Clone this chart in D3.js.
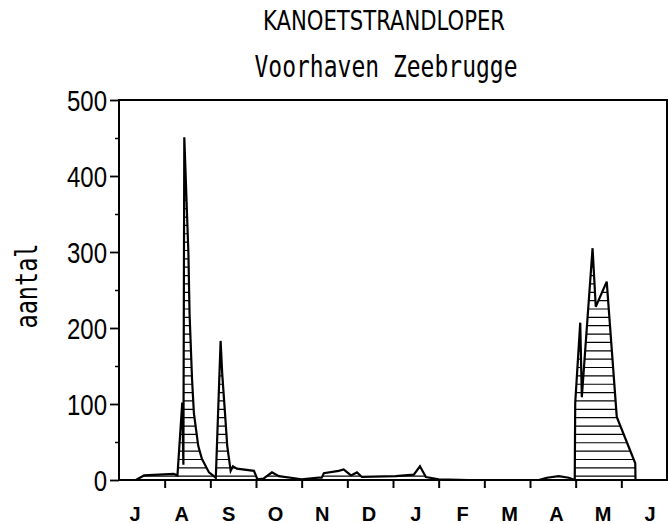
<!DOCTYPE html>
<html>
<head>
<meta charset="utf-8">
<title>Kanoetstrandloper</title>
<script src="https://d3js.org/d3.v7.min.js"></script>
<style>
  body { margin: 0; background: #fff; }
  svg { display: block; }
</style>
</head>
<body>
<div id="chart"></div>
<script>
// month labels, July to June
var maanden = ["J", "A", "S", "O", "N", "D", "J", "F", "M", "A", "M", "J"];
// y axis tick values
var yTicks = [0, 100, 200, 300, 400, 500];
// time in months since 1 July
var tijd = [0, 0.37, 0.55, 1.20, 1.28, 1.385, 1.41, 1.43, 1.52, 1.545, 1.60, 1.64, 1.735, 1.815, 1.97,
  2.12, 2.225, 2.26, 2.32, 2.37, 2.445, 2.495, 2.58, 2.955, 3.03, 3.17, 3.35, 3.50, 4.00,
  4.375, 4.44, 4.485, 4.81, 4.92, 5.08, 5.21, 5.32, 6.06, 6.455, 6.59, 6.72, 7.00, 7.66,
  9.19, 9.37, 9.63, 9.85, 9.98, 9.99, 10.10, 10.135, 10.37, 10.44, 10.68, 10.90, 11.305, 11.31];
// counted birds
var aantal = [0, 0, 6, 8, 6, 102, 20, 451, 298, 219, 132, 88, 45, 28, 10,
  3, 183, 140, 89, 45, 12, 18, 15, 12, 1, 2, 10, 5, 1,
  3, 3, 9, 12, 14, 6, 10, 4, 5, 7, 18, 4, 1, 0,
  0, 3, 5, 3, 0, 101, 207, 109, 305, 228, 261, 83, 22, 0];

var data = tijd.map(function(t, i) { return { t: t, n: aantal[i] }; });

var width = 668, height = 524;
var svg = d3.select("#chart").append("svg")
  .attr("width", width)
  .attr("height", height);

var x = d3.scaleLinear().domain([0, 12]).range([119, 667]);
var y = d3.scaleLinear().domain([0, 500]).range([480, 100]);
// month letters sit a little wider apart than the month ticks
var xLabel = d3.scalePoint().domain(d3.range(12)).range([135, 650]);

// titles
svg.append("text")
  .attr("x", 384).attr("y", 30)
  .attr("text-anchor", "middle")
  .attr("textLength", 242).attr("lengthAdjust", "spacingAndGlyphs")
  .style("font-family", "'DejaVu Sans Condensed', 'DejaVu Sans', sans-serif")
  .style("font-size", "26px")
  .text("KANOETSTRANDLOPER");

svg.append("text")
  .attr("x", 386).attr("y", 77)
  .attr("text-anchor", "middle")
  .attr("textLength", 263).attr("lengthAdjust", "spacingAndGlyphs")
  .style("font-family", "'DejaVu Sans Mono', monospace")
  .style("font-size", "31px")
  .text("Voorhaven Zeebrugge");

// y label
svg.append("text")
  .attr("transform", "translate(37,286) rotate(-90)")
  .attr("text-anchor", "middle")
  .attr("textLength", 85).attr("lengthAdjust", "spacingAndGlyphs")
  .style("font-family", "'DejaVu Sans Mono', monospace")
  .style("font-size", "31px")
  .text("aantal");

// hatched area
var area = d3.area()
  .x(function(d) { return x(d.t); })
  .y0(y(0))
  .y1(function(d) { return y(d.n); });

svg.append("clipPath").attr("id", "vlak")
  .append("path").attr("d", area(data));

svg.append("g")
  .attr("clip-path", "url(#vlak)")
  .selectAll("line")
  .data(d3.range(5, 500, 11))
  .enter().append("line")
  .attr("x1", x(0)).attr("x2", x(12))
  .attr("y1", function(d) { return y(d); })
  .attr("y2", function(d) { return y(d); })
  .attr("stroke", "#000")
  .attr("stroke-width", 1.2);

// outline
var line = d3.line()
  .x(function(d) { return x(d.t); })
  .y(function(d) { return y(d.n); });

svg.append("path")
  .attr("d", line(data))
  .attr("fill", "none")
  .attr("stroke", "#000")
  .attr("stroke-width", 2.2)
  .attr("stroke-linejoin", "miter");

// frame
svg.append("path")
  .attr("d", "M" + x(0) + "," + y(0) + "V" + y(500) + "H" + x(12) + "V" + y(0) + "Z")
  .attr("fill", "none")
  .attr("stroke", "#000")
  .attr("stroke-width", 2);

// y axis
var yAxis = svg.append("g")
  .attr("transform", "translate(" + x(0) + ",0)")
  .call(d3.axisLeft(y).tickValues(yTicks).tickSize(9).tickFormat(""));
yAxis.select(".domain").remove();
yAxis.selectAll("line").attr("stroke-width", 1.8);

var yMinor = svg.append("g")
  .attr("transform", "translate(" + x(0) + ",0)")
  .call(d3.axisLeft(y).tickValues(d3.range(50, 500, 100)).tickSize(4).tickFormat(""));
yMinor.select(".domain").remove();
yMinor.selectAll("line").attr("stroke-width", 1.5);

svg.append("g").selectAll("text")
  .data(yTicks)
  .enter().append("text")
  .attr("transform", function(d) { return "translate(107," + y(d) + ") scale(0.8,1)"; })
  .attr("dy", "0.36em")
  .attr("text-anchor", "end")
  .style("font-family", "'Liberation Sans', Arial, sans-serif")
  .style("font-size", "30px")
  .text(function(d) { return d; });

// x axis ticks at month boundaries
var xAxis = svg.append("g")
  .attr("transform", "translate(0," + y(0) + ")")
  .call(d3.axisBottom(x).tickValues(d3.range(1, 12)).tickSize(8).tickFormat(""));
xAxis.select(".domain").remove();
xAxis.selectAll("line").attr("stroke-width", 2);

svg.append("g").selectAll("text")
  .data(maanden)
  .enter().append("text")
  .attr("x", function(d, i) { return xLabel(i); })
  .attr("y", 521)
  .attr("text-anchor", "middle")
  .style("font-family", "'Liberation Sans', Arial, sans-serif")
  .style("font-weight", "bold")
  .style("font-size", "20px")
  .text(function(d) { return d; });
</script>
</body>
</html>
